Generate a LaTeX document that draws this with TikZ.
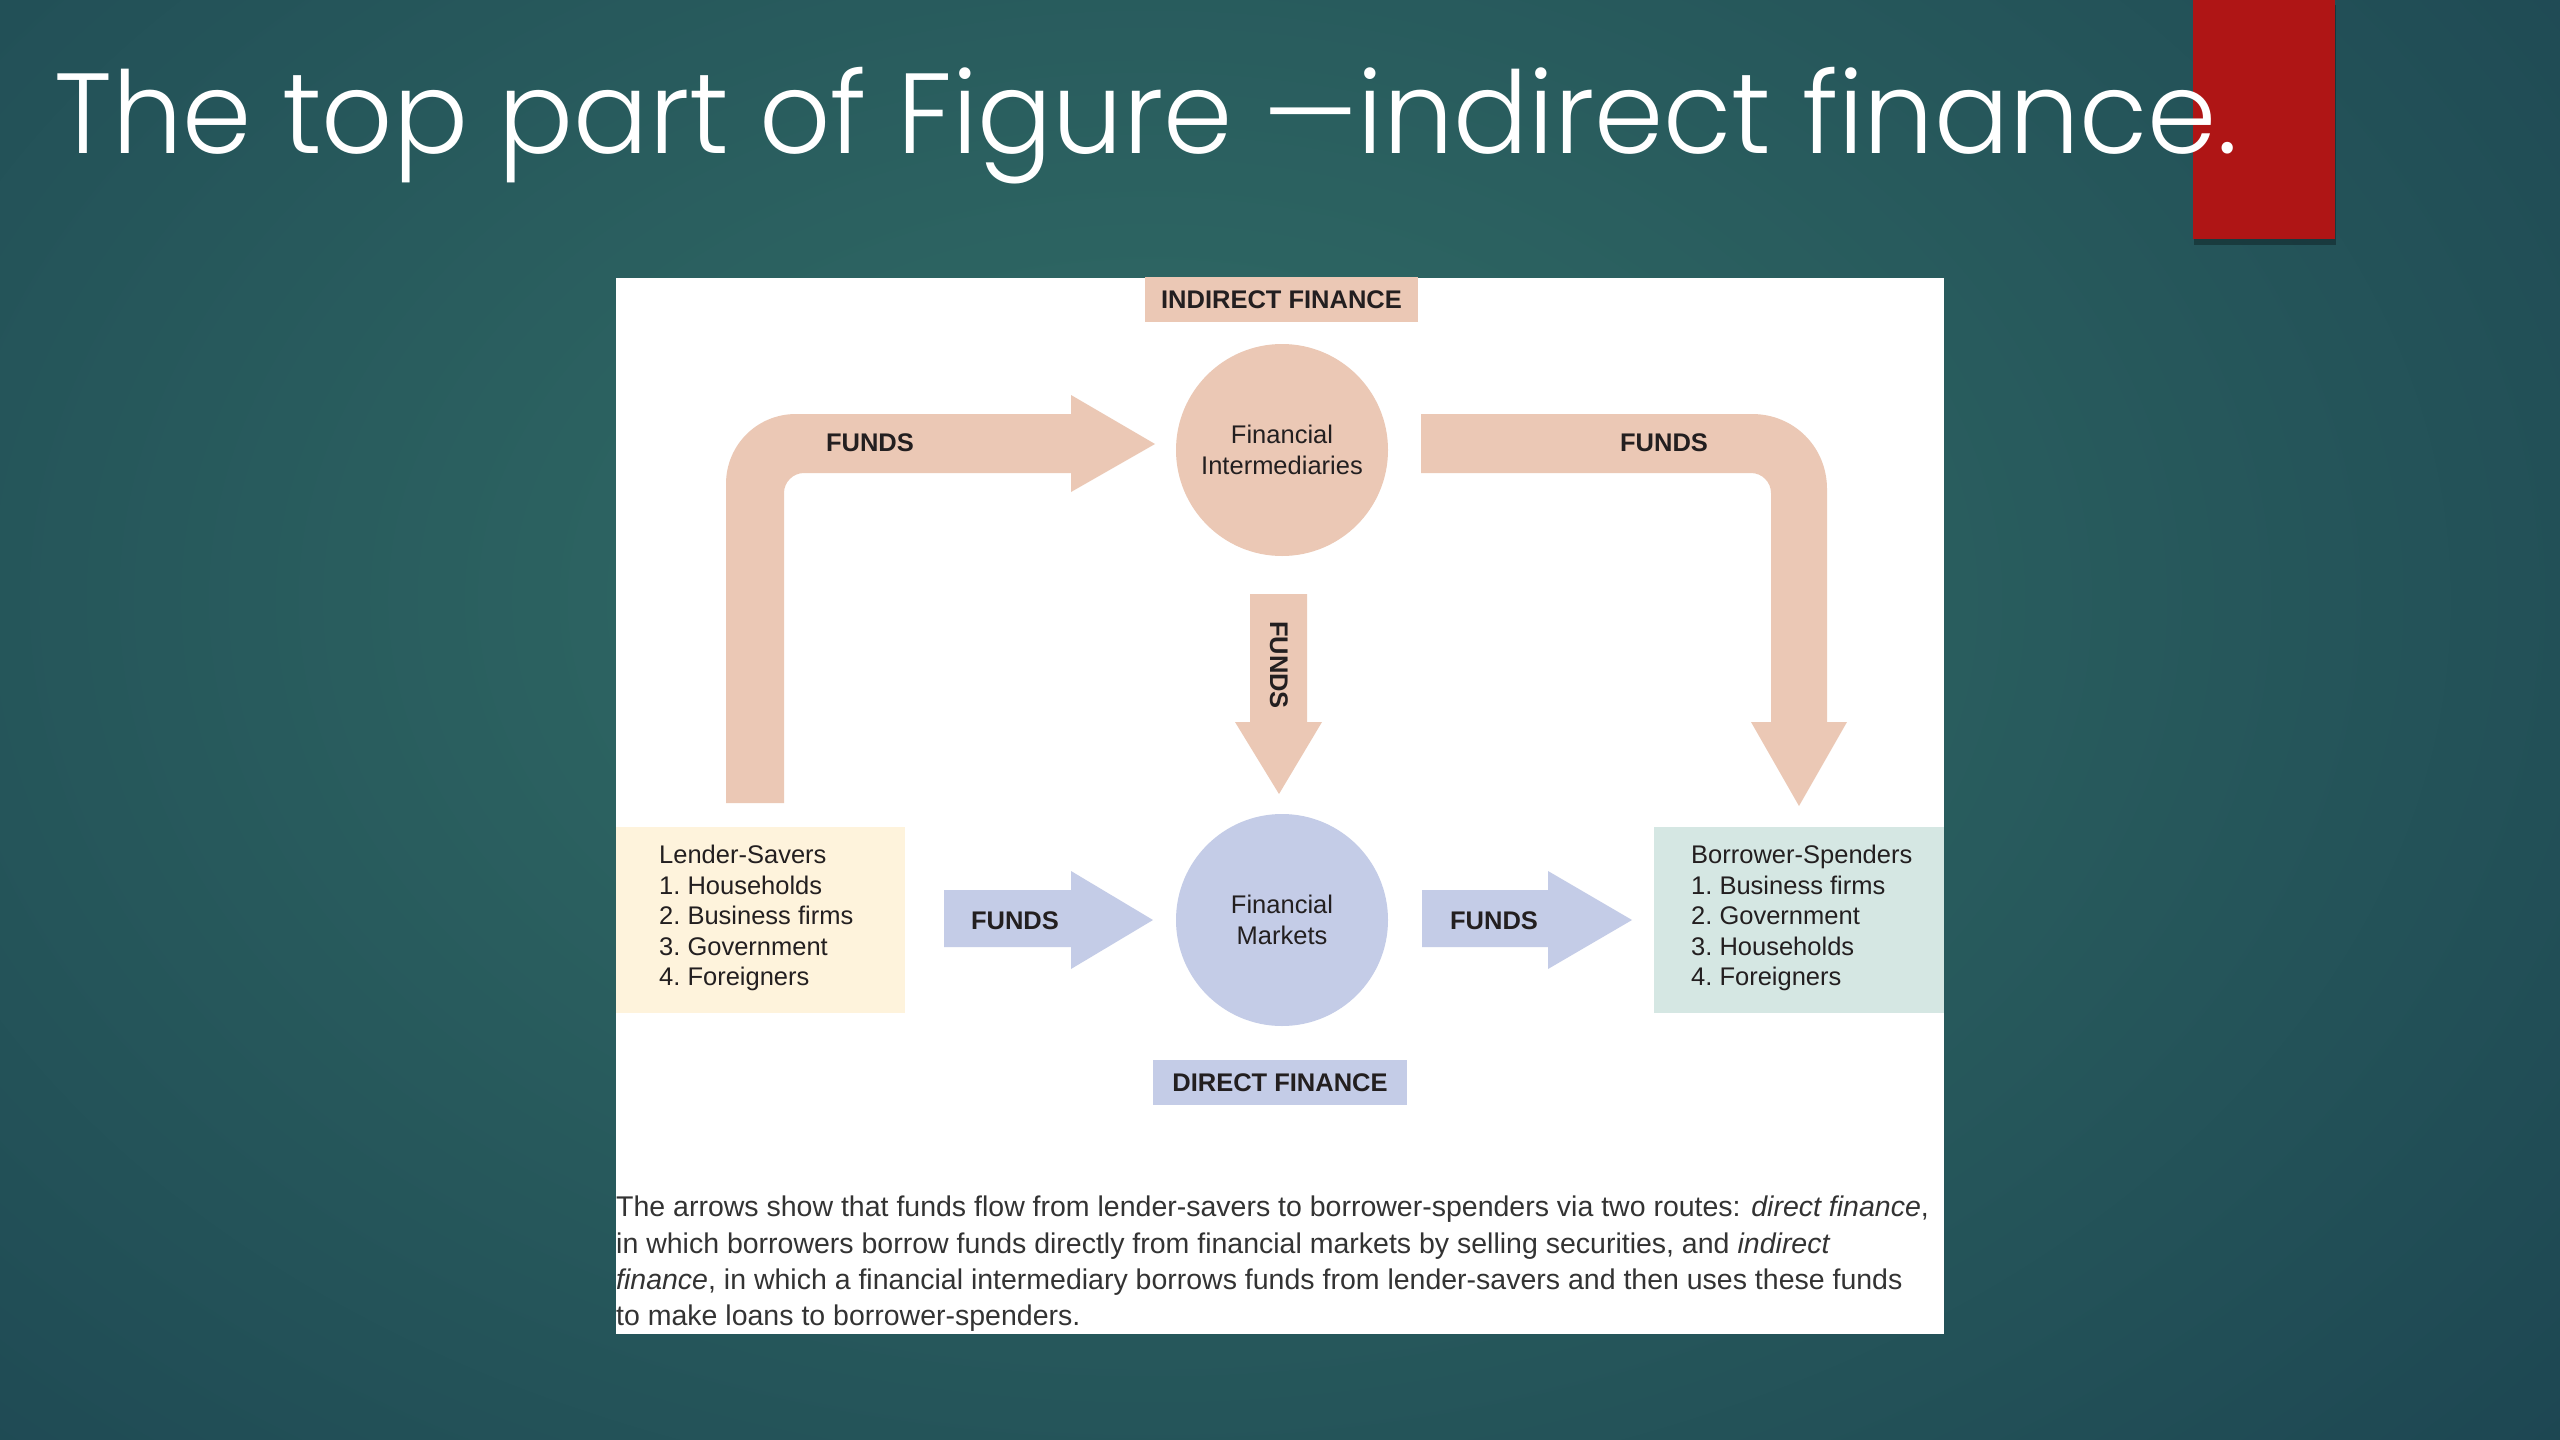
\documentclass[tikz,border=0pt]{standalone}
\usepackage{fontspec}
\setmainfont{Liberation Sans}
\newfontfamily\titlefont{Poppins}[UprightFont=* Light]
\definecolor{bgin}{HTML}{326E67}
\definecolor{bgout}{HTML}{15374A}
\definecolor{redbox}{HTML}{AF1515}
\definecolor{pinkc}{HTML}{EBC8B5}
\definecolor{lavc}{HTML}{C4CCE7}
\definecolor{lendc}{HTML}{FEF3DC}
\definecolor{borc}{HTML}{D5E7E3}
\definecolor{txt}{HTML}{231F20}
\definecolor{captxt}{HTML}{333333}
\tikzset{
  lbl/.style={font=\fontsize{25.5}{31}\selectfont\bfseries, text=txt, inner sep=0},
  body/.style={font=\fontsize{25.5}{30.5}\selectfont\frenchspacing, text=txt, inner sep=0, align=left},
  pinkarrow/.style={fill=pinkc},
  lavarrow/.style={fill=lavc},
  disc/.style={circle, minimum size=212, inner sep=0},
  tagbox/.style={minimum height=45, inner sep=0, lbl}
}
\begin{document}
\begin{tikzpicture}[x=1pt,y=-1pt]
\useasboundingbox (0,0) rectangle (2560,1440);
\begin{scope}
\clip (0,0) rectangle (2560,1440);
\fill[bgout] (0,0) rectangle (2560,1440);
\shade[inner color=bgin, outer color=bgout] (1150,600) ellipse (2600 and 1800);
\end{scope}
% red accent
\fill[black, opacity=0.3] (2194,5) rectangle (2336,245);
\fill[redbox] (2193,0) rectangle (2335,239);
% title
\node[anchor=base west, inner sep=0, text=white, font=\titlefont\fontsize{114}{130}\selectfont] (title) at (54,153) {\scalebox{0.976}[1]{The top part of Figure —indirect finance.}};
% panel
\fill[white] (616,278) rectangle (1944,1334);
% top-left L arrow
\fill[pinkarrow] (726,803) -- (726,484) .. controls (726,445) and (757,414) .. (796,414)
  -- (1071,414) -- (1071,395) -- (1155,444) -- (1071,492) -- (1071,473)
  -- (804,473) .. controls (793,473) and (784,482) .. (784,493) -- (784,803) -- cycle;
% top-right arrow
\fill[pinkarrow] (1421,414) -- (1752,414) .. controls (1794,414) and (1827,447) .. (1827,489)
  -- (1827,722) -- (1847,722) -- (1799,806) -- (1751,722) -- (1771,722)
  -- (1771,493) .. controls (1771,482) and (1762,473) .. (1751,473) -- (1421,473) -- cycle;
% middle down arrow
\fill[pinkarrow] (1250,594) -- (1307,594) -- (1307,722) -- (1322,722) -- (1279,794)
  -- (1235,722) -- (1250,722) -- cycle;
% lower arrows
\fill[lavarrow] (944,890) -- (1071,890) -- (1071,871) -- (1153,920) -- (1071,969)
  -- (1071,947) -- (944,947) -- cycle;
\fill[lavarrow] (1422,890) -- (1548,890) -- (1548,871) -- (1632,920) -- (1548,969)
  -- (1548,947) -- (1422,947) -- cycle;
% tags
\node[tagbox, fill=pinkc, minimum width=273] (ind) at (1281.5,299.5) {INDIRECT FINANCE};
\node[tagbox, fill=lavc, minimum width=254] (dir) at (1280,1082.5) {DIRECT FINANCE};
% circles
\node[disc, fill=pinkc, body, align=center] (fi) at (1282,450) {Financial\\Intermediaries};
\node[disc, fill=lavc, body, align=center] (fm) at (1282,920) {Financial\\Markets};
% side boxes
\node[fill=lendc, minimum width=289, minimum height=186, inner sep=0] (lend) at (760.5,920) {};
\node[fill=borc, minimum width=290, minimum height=186, inner sep=0] (borr) at (1799,920) {};
\node[body, anchor=west] (lendtxt) at (659,918) {Lender-Savers\\1. Households\\2. Business firms\\3. Government\\4. Foreigners};
\node[body, anchor=west] (borrtxt) at (1691,918) {Borrower-Spenders\\1. Business firms\\2. Government\\3. Households\\4. Foreigners};
% FUNDS labels
\node[lbl] (f1) at (870,443) {FUNDS};
\node[lbl] (f2) at (1664,443) {FUNDS};
\node[lbl] (f3) at (1015,921) {FUNDS};
\node[lbl] (f4) at (1494,921) {FUNDS};
\node[lbl, rotate=-90] (f5) at (1279,665) {FUNDS};
% caption
\node[anchor=west, inner sep=0, font=\fontsize{28.5}{36.3}\selectfont, text=captxt, align=left] (cap) at (616,1264) {The arrows show that funds flow from lender-savers to borrower-spenders via two routes: \textit{direct finance},\\in which borrowers borrow funds directly from financial markets by selling securities, and \textit{indirect}\\\textit{finance}, in which a financial intermediary borrows funds from lender-savers and then uses these funds\\to make loans to borrower-spenders.};
\end{tikzpicture}
\end{document}
